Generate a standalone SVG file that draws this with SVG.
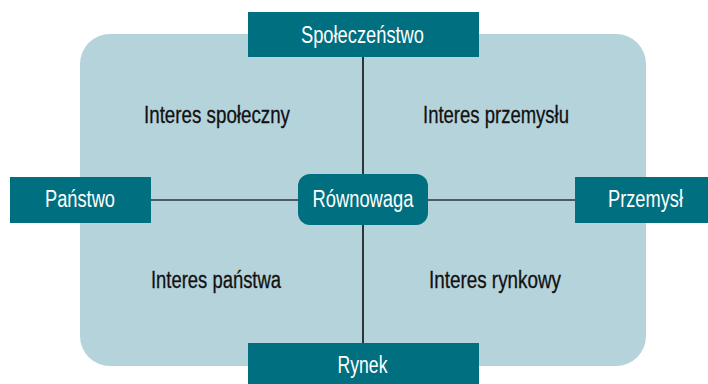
<svg xmlns="http://www.w3.org/2000/svg" width="708" height="384" viewBox="0 0 708 384">
  <style>
    .box { fill: #006F7F; }
    .lbl { font-family: "Liberation Sans", Arial, sans-serif; font-size: 23px; fill: #FFFFFF; text-anchor: middle; }
    .q { font-family: "Liberation Sans", Arial, sans-serif; font-size: 23px; fill: #111111; stroke: #111111; stroke-width: 0.3; text-anchor: middle; }
    .conn { stroke: #2D3538; fill: none; }
  </style>
  <rect id="background" x="80" y="34" width="566" height="332" rx="30" ry="30" fill="#B5D3DB"/>
  <g id="quadrants">
    <text class="q" x="217" y="123" textLength="146" lengthAdjust="spacingAndGlyphs">Interes społeczny</text>
    <text class="q" x="496" y="123" textLength="146" lengthAdjust="spacingAndGlyphs">Interes przemysłu</text>
    <text class="q" x="216" y="288" textLength="130" lengthAdjust="spacingAndGlyphs">Interes państwa</text>
    <text class="q" x="495" y="288" textLength="132" lengthAdjust="spacingAndGlyphs">Interes rynkowy</text>
  </g>
  <g id="connectors">
    <line class="conn" x1="363" y1="57" x2="363" y2="343" stroke-width="2"/>
    <line class="conn" x1="151" y1="200" x2="575" y2="200" stroke-width="1.5"/>
  </g>
  <g id="spoleczenstwo">
    <rect class="box" x="248" y="12" width="231" height="45"/>
    <text class="lbl" x="362.5" y="43" textLength="123" lengthAdjust="spacingAndGlyphs">Społeczeństwo</text>
  </g>
  <g id="panstwo">
    <rect class="box" x="10" y="177" width="141" height="46"/>
    <text class="lbl" x="80" y="207" textLength="70" lengthAdjust="spacingAndGlyphs">Państwo</text>
  </g>
  <g id="przemysl">
    <rect class="box" x="575" y="177" width="133" height="46"/>
    <text class="lbl" x="645.5" y="207" textLength="75" lengthAdjust="spacingAndGlyphs">Przemysł</text>
  </g>
  <g id="rynek">
    <rect class="box" x="248" y="343" width="231" height="41"/>
    <text class="lbl" x="362.5" y="373" textLength="50" lengthAdjust="spacingAndGlyphs">Rynek</text>
  </g>
  <g id="rownowaga">
    <rect class="box" x="298" y="174" width="130" height="51" rx="12" ry="12"/>
    <text class="lbl" x="363" y="207" textLength="101" lengthAdjust="spacingAndGlyphs">Równowaga</text>
  </g>
</svg>
